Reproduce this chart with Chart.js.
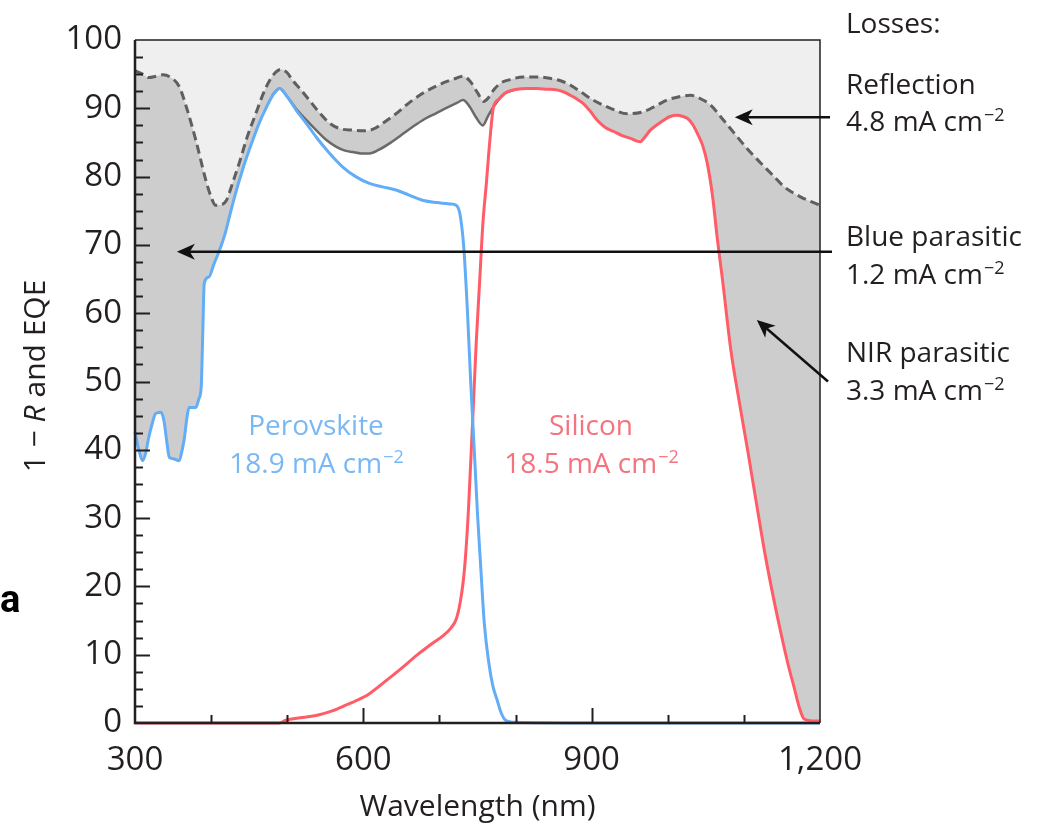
<!DOCTYPE html>
<html>
<head>
<meta charset="utf-8">
<script src="https://cdn.jsdelivr.net/npm/chart.js@4.4.1/dist/chart.umd.min.js"></script>
<style>
  html, body { margin: 0; padding: 0; background: #fff; }
  #wrap { width: 1039px; height: 829px; }
</style>
</head>
<body>
<div id="wrap"><canvas id="eqe" width="1039" height="829"></canvas></div>
<script>
// values: wavelength in nm, 1-R and EQE in %
var reflNm = [300, 310, 318, 328, 337, 347, 358, 368, 380, 393, 400, 406, 414, 420, 428, 437, 448, 459, 468, 477,
  485, 492, 500, 507, 518, 529, 542, 556, 570, 586, 600, 612, 628, 644, 660, 678, 695, 709, 722, 731,
  740, 750, 758, 764, 772, 782, 793, 810, 828, 845, 860, 872, 887, 902, 925, 947, 968, 985, 999, 1015,
  1030, 1043, 1056, 1070, 1087, 1105, 1122, 1138, 1153, 1175, 1200];
var oneMinusR = [95.5, 95.0, 94.5, 94.7, 94.9, 94.5, 93.2, 90.0, 85.3, 79.5, 77.0, 75.8, 75.9, 76.5, 79.0, 82.0, 86.0, 89.3, 92.0, 94.1,
  95.3, 95.7, 95.2, 94.1, 92.7, 91.2, 89.4, 87.8, 87.0, 86.8, 86.7, 86.9, 88.0, 89.3, 90.8, 92.2, 93.2, 93.9, 94.4, 94.7,
  94.0, 92.3, 91.0, 91.5, 92.8, 93.8, 94.2, 94.6, 94.6, 94.4, 94.0, 93.4, 92.3, 91.2, 90.0, 89.2, 89.5, 90.4, 91.2, 91.7,
  91.9, 91.4, 90.5, 88.7, 86.4, 84.0, 82.0, 80.2, 78.5, 77.0, 75.8];

var totalNm = [480, 490, 500, 512, 525, 538, 551, 564, 576, 586, 597, 608, 620, 635, 650, 665, 680, 696, 710, 723,
  731, 740, 748, 757, 764, 771, 778, 786, 795, 802];
var totalEqe = [91.9, 92.9, 91.7, 89.9, 88.3, 86.8, 85.4, 84.4, 83.8, 83.6, 83.4, 83.4, 83.9, 84.9, 86.1, 87.3, 88.4, 89.3, 90.1, 90.8,
  91.2, 90.2, 88.7, 87.5, 88.9, 90.2, 91.3, 92.2, 92.6, 92.8];

var perovNm = [300, 305, 310, 314, 318, 323, 327, 334, 338, 342, 345, 350, 358, 362, 365, 368, 371, 380, 384, 387,
  389, 391, 397, 404, 411, 418, 424, 432, 441, 452, 463, 472, 481, 490, 500, 512, 525, 538, 555, 573,
  590, 608, 625, 644, 660, 679, 696, 714, 722, 727, 732, 737, 741, 745.6, 750, 754, 759, 765, 770, 776,
  781, 787, 800, 900, 1000, 1100, 1200];
var perovEqe = [42.6, 40.0, 38.4, 39.5, 41.8, 44.0, 45.3, 45.5, 44.3, 41.0, 38.9, 38.7, 38.4, 40.0, 41.8, 44.5, 46.2, 46.2, 47.5, 49.2,
  57.0, 64.4, 65.3, 67.3, 69.2, 71.5, 74.1, 77.5, 80.9, 84.5, 87.8, 90.0, 91.9, 92.9, 91.7, 89.7, 87.8, 85.8, 83.5, 81.4,
  80.0, 79.0, 78.5, 78.0, 77.3, 76.5, 76.2, 76.0, 75.8, 74.5, 69.6, 59.8, 50.1, 40.3, 30.6, 23.3, 14.5, 8.7, 5.5, 3.3,
  1.5, 0.4, 0.1, 0, 0, 0, 0];

var siliconNm = [300, 400, 490, 498, 520, 542, 560, 577, 593, 608, 630, 650, 670, 690, 705, 715, 722, 727, 731, 734,
  738, 741, 744.5, 748, 753, 757, 762, 766, 771, 778, 786, 802, 815, 828, 841, 854, 863, 872, 880, 889,
  898, 907, 918, 929, 940, 951, 964, 970, 977, 986, 995, 1003, 1012, 1020, 1026, 1033, 1039, 1046, 1052, 1059,
  1065, 1072, 1083, 1094, 1105, 1116, 1127, 1138, 1149, 1158, 1166, 1173, 1179, 1190, 1200];
var siliconEqe = [0, 0, 0, 0.4, 0.8, 1.2, 1.8, 2.6, 3.4, 4.3, 6.2, 8.0, 9.9, 11.6, 12.8, 13.9, 15.2, 17.5, 20.5, 24.0,
  31.0, 38.0, 46.3, 55.0, 65.0, 73.0, 79.5, 85.0, 90.2, 91.3, 92.2, 92.8, 92.9, 92.9, 92.8, 92.7, 92.4, 91.9, 91.4, 90.7,
  89.6, 88.3, 87.2, 86.6, 86.0, 85.6, 85.1, 85.8, 86.8, 87.6, 88.3, 88.8, 89.0, 88.8, 88.5, 87.6, 86.3, 84.5, 81.9, 77.0,
  71.0, 64.8, 54.5, 47.0, 39.9, 32.5, 25.2, 18.8, 13.0, 8.6, 5.2, 2.2, 0.6, 0.3, 0.3];

var xTickValues = [300, 600, 900, 1200];
var xTickText = ['300', '600', '900', '1,200'];

var FONT = '"Open Sans", sans-serif';
var INK = '#231f20';
var BLUE = '#62adf6';
var RED = '#ff5c68';

function pts(xs, ys) {
  return xs.map(function (x, i) { return { x: x, y: ys[i] }; });
}

// plot background (the light grey above the 1-R curve)
var backdrop = {
  id: 'backdrop',
  beforeDraw: function (chart) {
    var a = chart.chartArea, ctx = chart.ctx;
    ctx.save();
    ctx.fillStyle = '#fff';
    ctx.fillRect(0, 0, chart.width, chart.height);
    ctx.fillStyle = '#efefef';
    ctx.fillRect(a.left, a.top, a.right - a.left, a.bottom - a.top);
    ctx.restore();
  }
};

// box and inward tick marks
var frame = {
  id: 'frame',
  afterDatasetsDraw: function (chart) {
    var a = chart.chartArea, ctx = chart.ctx;
    var xs = chart.scales.x, ys = chart.scales.y;
    ctx.save();
    ctx.strokeStyle = INK;
    ctx.lineWidth = 1.5;
    ctx.beginPath();
    ctx.moveTo(a.left, a.top);
    ctx.lineTo(a.right, a.top);
    ctx.lineTo(a.right, a.bottom);
    ctx.stroke();
    ctx.lineWidth = 2.5;
    ctx.beginPath();
    ctx.moveTo(a.left, a.top);
    ctx.lineTo(a.left, a.bottom);
    ctx.lineTo(a.right, a.bottom);
    ctx.stroke();
    ctx.lineWidth = 2;
    var v, p, len;
    for (v = 2.5; v < 100; v += 2.5) {
      p = Math.round(ys.getPixelForValue(v)) + 0.5;
      len = v % 10 === 0 ? 15 : 8;
      ctx.beginPath(); ctx.moveTo(a.left, p); ctx.lineTo(a.left + len, p); ctx.stroke();
    }
    for (v = 400; v < 1200; v += 100) {
      p = Math.round(xs.getPixelForValue(v)) + 0.5;
      len = v % 300 === 0 ? 15 : 8;
      ctx.beginPath(); ctx.moveTo(p, a.bottom); ctx.lineTo(p, a.bottom - len); ctx.stroke();
    }
    ctx.restore();
  }
};

function supText(ctx, base, sup, x, y, size, align) {
  var small = Math.round(size * 0.64);
  ctx.font = size + 'px ' + FONT;
  var wb = ctx.measureText(base).width;
  ctx.font = small + 'px ' + FONT;
  var ws = ctx.measureText(sup).width;
  var start = align === 'center' ? x - (wb + ws) / 2 : x;
  ctx.textAlign = 'left';
  ctx.textBaseline = 'alphabetic';
  ctx.font = size + 'px ' + FONT;
  ctx.fillText(base, start, y);
  ctx.font = small + 'px ' + FONT;
  ctx.fillText(sup, start + wb + 1, y - size * 0.36);
}

function arrow(ctx, x1, y1, x2, y2) {
  var ang = Math.atan2(y2 - y1, x2 - x1);
  var L = 18, W = 8;
  ctx.beginPath();
  ctx.moveTo(x1, y1);
  ctx.lineTo(x2 - Math.cos(ang) * L * 0.7, y2 - Math.sin(ang) * L * 0.7);
  ctx.stroke();
  ctx.save();
  ctx.translate(x2, y2);
  ctx.rotate(ang);
  ctx.beginPath();
  ctx.moveTo(0, 0);
  ctx.lineTo(-L, -W);
  ctx.lineTo(-L * 0.72, 0);
  ctx.lineTo(-L, W);
  ctx.closePath();
  ctx.fill();
  ctx.restore();
}

var notes = {
  id: 'notes',
  afterDraw: function (chart) {
    var a = chart.chartArea, ctx = chart.ctx;
    var xs = chart.scales.x, ys = chart.scales.y;
    ctx.save();

    // y axis title with italic R
    var parts = [['1 \u2212 ', ''], ['R', 'italic '], [' and EQE', '']];
    var size = 30, total = 0;
    parts.forEach(function (p) { ctx.font = p[1] + size + 'px ' + FONT; p.push(ctx.measureText(p[0]).width); total += p[2]; });
    ctx.translate(36, 376);
    ctx.rotate(-Math.PI / 2);
    ctx.fillStyle = INK;
    ctx.textBaseline = 'middle';
    ctx.textAlign = 'left';
    var cx = -total / 2;
    parts.forEach(function (p) { ctx.font = p[1] + size + 'px ' + FONT; ctx.fillText(p[0], cx, 0); cx += p[2]; });
    ctx.setTransform(1, 0, 0, 1, 0, 0);

    // panel letter
    ctx.font = 'bold 38px Roboto, "Liberation Sans", sans-serif';
    ctx.textBaseline = 'alphabetic';
    ctx.fillStyle = '#000';
    ctx.fillText('a', 0, 612);

    // curve labels
    ctx.fillStyle = '#7ab8f4';
    ctx.font = '28px ' + FONT;
    ctx.textAlign = 'center';
    ctx.fillText('Perovskite', 316, 435);
    supText(ctx, '18.9 mA cm', '\u22122', 316, 473, 28, 'center');
    ctx.fillStyle = '#f4737e';
    ctx.font = '28px ' + FONT;
    ctx.textAlign = 'center';
    ctx.fillText('Silicon', 591, 435);
    supText(ctx, '18.5 mA cm', '\u22122', 591, 473, 28, 'center');

    // losses column
    var tx = a.right + 26;
    ctx.fillStyle = INK;
    ctx.font = '28px ' + FONT;
    ctx.textAlign = 'left';
    ctx.fillText('Losses:', tx, 33);
    ctx.fillText('Reflection', tx, 94);
    supText(ctx, '4.8 mA cm', '\u22122', tx, 131, 28, 'left');
    ctx.font = '28px ' + FONT;
    ctx.fillText('Blue parasitic', tx, 246);
    supText(ctx, '1.2 mA cm', '\u22122', tx, 284, 28, 'left');
    ctx.font = '28px ' + FONT;
    ctx.fillText('NIR parasitic', tx, 362);
    supText(ctx, '3.3 mA cm', '\u22122', tx, 400, 28, 'left');

    // arrows, tips placed in data coordinates
    ctx.strokeStyle = '#111';
    ctx.fillStyle = '#111';
    ctx.lineWidth = 2.5;
    var ry = ys.getPixelForValue(88.7);
    arrow(ctx, a.right + 10, ry, xs.getPixelForValue(1088), ry);
    var by = ys.getPixelForValue(69);
    arrow(ctx, a.right + 12, by, xs.getPixelForValue(355), by);
    arrow(ctx, a.right + 8, ys.getPixelForValue(50), xs.getPixelForValue(1117), ys.getPixelForValue(59));
    ctx.restore();
  }
};

new Chart(document.getElementById('eqe'), {
  type: 'line',
  data: {
    datasets: [
      { label: 'Perovskite', data: pts(perovNm, perovEqe), borderColor: BLUE, borderWidth: 3,
        backgroundColor: '#fff', fill: 'origin', pointRadius: 0, cubicInterpolationMode: 'monotone', clip: 4 },
      { label: 'Silicon', data: pts(siliconNm, siliconEqe), borderColor: RED, borderWidth: 3,
        backgroundColor: '#fff', fill: 'origin', pointRadius: 0, cubicInterpolationMode: 'monotone', clip: 4 },
      { label: 'Total EQE', data: pts(totalNm, totalEqe), borderColor: '#6a6a6a', borderWidth: 2.5,
        backgroundColor: '#fff', fill: 'origin', pointRadius: 0, cubicInterpolationMode: 'monotone', clip: 4 },
      { label: '1 - R', data: pts(reflNm, oneMinusR), borderColor: '#5f5f5f', borderWidth: 3, borderDash: [9, 5],
        backgroundColor: '#cdcdcd', fill: 'origin', pointRadius: 0, cubicInterpolationMode: 'monotone', clip: 4 }
    ]
  },
  options: {
    responsive: false,
    animation: false,
    devicePixelRatio: 1,
    layout: { padding: { left: 0, right: 219, top: 40, bottom: 0 } },
    plugins: {
      legend: { display: false },
      tooltip: { enabled: false },
      filler: { drawTime: 'beforeDatasetsDraw' }
    },
    scales: {
      x: {
        type: 'linear', min: 300, max: 1200,
        grid: { display: false, drawTicks: false },
        border: { display: false },
        ticks: {
          stepSize: 100, autoSkip: false, maxRotation: 0, padding: 18, color: INK,
          font: { family: FONT, size: 33 },
          callback: function (v) { var i = xTickValues.indexOf(v); return i < 0 ? '' : xTickText[i]; }
        },
        title: { display: true, text: 'Wavelength (nm)', color: INK, font: { family: FONT, size: 30 }, padding: { top: 0, bottom: 4 } },
        afterFit: function (s) { s.height = 106; }
      },
      y: {
        min: 0, max: 100,
        grid: { display: false, drawTicks: false },
        border: { display: false },
        ticks: { stepSize: 10, padding: 13, color: INK, font: { family: FONT, size: 33 } },
        afterFit: function (s) { s.width = 135; }
      }
    }
  },
  plugins: [backdrop, frame, notes]
});
</script>
</body>
</html>
